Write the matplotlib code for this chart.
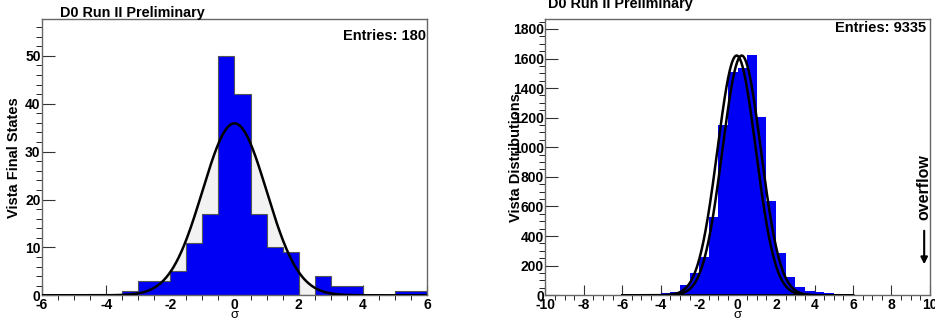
import numpy as np
import matplotlib.pyplot as plt
from matplotlib.ticker import MultipleLocator

plt.rcParams['font.family'] = ['Liberation Sans', 'DejaVu Sans']
plt.rcParams['font.weight'] = 'bold'
plt.rcParams['axes.unicode_minus'] = False

# bins of width 0.5 from -6 to 6
bin_edges = np.arange(-6, 6.001, 0.5)

# left: Vista final states
left_counts = [0, 0, 0, 0, 0, 1, 3, 3, 5, 11, 17, 50,
               42, 17, 10, 9, 0, 4, 2, 2, 0, 0, 1, 1]
left_entries = 180
left_mean, left_sigma = 0.0, 1.0

# right: Vista distributions
right_counts = [1, 1, 2, 5, 13, 25, 70, 153, 261, 531, 1148, 1510,
                1535, 1622, 1203, 636, 287, 125, 58, 29, 21, 16, 7, 5]
right_entries = 9335
right_peak = 1620
right_means = [-0.05, 0.21]
right_sigma = 1.0

blue = '#0000f5'
frame = '#666666'


def gauss(x, amp, mu, s):
    return amp * np.exp(-0.5 * ((x - mu) / s) ** 2)


def style(ax, xmaj, xmin, ymaj, ymin):
    for sp in ax.spines.values():
        sp.set_color(frame)
        sp.set_linewidth(1.0)
    ax.tick_params(direction='in', top=False, right=False, labelsize=10,
                   color='#333333', width=0.8)
    ax.tick_params(axis='y', which='major', length=9, pad=1)
    ax.tick_params(axis='y', which='minor', length=4.5)
    ax.tick_params(axis='x', which='major', length=7, pad=2)
    ax.tick_params(axis='x', which='minor', length=3.5)
    ax.xaxis.set_major_locator(MultipleLocator(xmaj))
    ax.xaxis.set_minor_locator(MultipleLocator(xmin))
    ax.yaxis.set_major_locator(MultipleLocator(ymaj))
    ax.yaxis.set_minor_locator(MultipleLocator(ymin))
    for lab in ax.get_xticklabels() + ax.get_yticklabels():
        lab.set_fontweight('bold')


fig = plt.figure(figsize=(9.35, 3.24), dpi=100)

# ---- left panel
ax1 = fig.add_axes([0.0449, 0.0886, 0.4118, 0.8528])
xs = np.linspace(-6, 6, 600)
bw = bin_edges[1] - bin_edges[0]
g1 = gauss(xs, left_entries * bw / np.sqrt(2 * np.pi) / left_sigma, left_mean, left_sigma)
ax1.fill_between(xs, 0, g1, color='#f2f2f2', zorder=1)
ax1.stairs(left_counts, bin_edges, fill=True, color=blue, zorder=2)
ax1.stairs(left_counts, bin_edges, color='#555555', lw=0.8, zorder=3)
ax1.plot(xs, g1, color='black', lw=1.8, zorder=4)
ax1.set_xlim(-6, 6)
ax1.set_ylim(0, 57.7)
style(ax1, 2, 0.5, 10, 2)
ax1.set_ylabel('Vista Final States', fontsize=10.5, fontweight='bold', va='center')
ax1.yaxis.set_label_coords(-0.073, 0.5)
ax1.set_xlabel('σ', fontsize=9.5, fontweight='normal', va='center')
ax1.xaxis.set_label_coords(0.5, -0.072)
ax1.text(0.997, 0.924, 'Entries: %d' % left_entries, transform=ax1.transAxes,
         ha='right', va='baseline', fontsize=10.5, fontweight='bold')
fig.text(0.0642, 0.9485, 'D0 Run II Preliminary', ha='left', va='baseline',
         fontsize=10.4, fontweight='bold')

# ---- right panel
ax2 = fig.add_axes([0.5832, 0.0886, 0.4114, 0.8528])
ax2.stairs(right_counts, bin_edges, fill=True, color=blue, zorder=2)
ax2.hlines(0, bin_edges[0], bin_edges[-1], color='black', lw=1.2, zorder=3)
for mu in right_means:
    ax2.plot(xs, gauss(xs, right_peak, mu, right_sigma), color='black', lw=1.8, zorder=4)
ax2.set_xlim(-10, 10)
ax2.set_ylim(0, 1867)
style(ax2, 2, 0.5, 200, 50)
ax2.set_ylabel('Vista Distributions', fontsize=10.5, fontweight='bold', va='center')
ax2.yaxis.set_label_coords(-0.076, 0.5)
ax2.set_xlabel('σ', fontsize=9.5, fontweight='normal', va='center')
ax2.xaxis.set_label_coords(0.5, -0.072)
ax2.text(0.9896, 0.952, 'Entries: %d' % right_entries, transform=ax2.transAxes,
         ha='right', va='baseline', fontsize=10.5, fontweight='bold')
ax2.text(9.7, 729, 'overflow', rotation=90, ha='center', va='center',
         fontsize=11.5, fontweight='bold')
ax2.annotate('', xy=(9.7, 191), xytext=(9.7, 455),
             arrowprops=dict(arrowstyle='-|>', color='black', lw=1.5,
                             mutation_scale=10))
fig.text(0.5865, 0.976, 'D0 Run II Preliminary', ha='left', va='baseline',
         fontsize=10.4, fontweight='bold')

fig.savefig('out.png', dpi=100)
